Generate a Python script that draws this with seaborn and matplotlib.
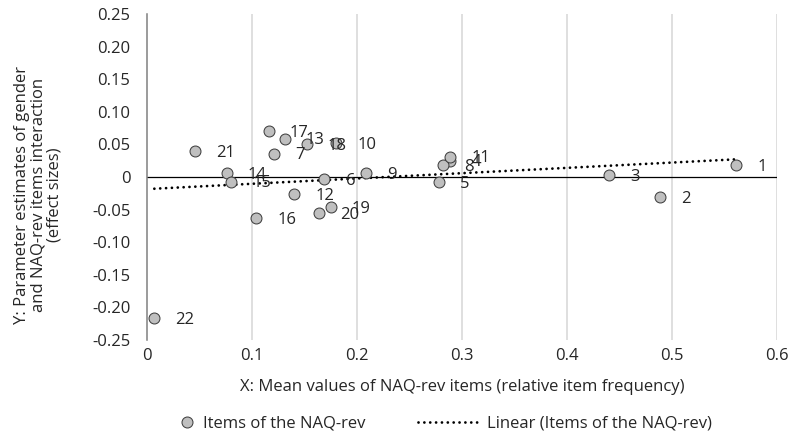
import matplotlib
matplotlib.use("Agg")
import matplotlib.pyplot as plt
import seaborn as sns
import pandas as pd
import numpy as np
from matplotlib.lines import Line2D

# ---- data ----
item_ids = [1, 2, 3, 4, 5, 6, 7, 8, 9, 10, 11,
            12, 13, 14, 15, 16, 17, 18, 19, 20, 21, 22]
mean_values = [0.561, 0.489, 0.440, 0.289, 0.278, 0.169, 0.121, 0.282, 0.209, 0.180, 0.289,
               0.140, 0.131, 0.076, 0.080, 0.104, 0.116, 0.152, 0.175, 0.164, 0.046, 0.007]
effect_sizes = [0.018, -0.031, 0.003, 0.025, -0.008, -0.003, 0.036, 0.018, 0.006, 0.052, 0.031,
                -0.026, 0.059, 0.006, -0.007, -0.063, 0.070, 0.050, -0.046, -0.055, 0.040, -0.217]

x_ticks = [0, 0.1, 0.2, 0.3, 0.4, 0.5, 0.6]
x_tick_labels = ["0", "0.1", "0.2", "0.3", "0.4", "0.5", "0.6"]
y_ticks = [0.25, 0.20, 0.15, 0.10, 0.05, 0, -0.05, -0.10, -0.15, -0.20, -0.25]
y_tick_labels = ["0.25", "0.20", "0.15", "0.10", "0.05", "0", "-0.05", "-0.10", "-0.15", "-0.20", "-0.25"]

x_label = "X: Mean values of NAQ-rev items (relative item frequency)"
y_label = "Y: Parameter estimates of gender\nand NAQ-rev items interaction\n(effect sizes)"
series_name = "Items of the NAQ-rev"
trend_name = "Linear (Items of the NAQ-rev)"

df = pd.DataFrame({"item": item_ids, "x": mean_values, "y": effect_sizes})

sns.set_theme(style="white")
plt.rcParams["font.family"] = ["Open Sans", "DejaVu Sans"]
FS = 12
TXT = "#262626"

W, H = 792, 437
fig = plt.figure(figsize=(W / 100, H / 100), dpi=100)
ax = fig.add_axes([147 / W, 1 - 340 / H, (777 - 147) / W, (340 - 14) / H])

# vertical gridlines
for xv in x_ticks[1:]:
    ax.axvline(xv, color="#D9D9D9", lw=1.2, zorder=0)
# horizontal axis line at y=0
ax.axhline(0, color="#000000", lw=0.9, zorder=1)

# linear trendline
sns.regplot(data=df, x="x", y="y", scatter=False, ci=None, truncate=True, ax=ax,
            line_kws=dict(color="black", lw=2.0, linestyle=(0, (0.01, 2.1)),
                          dash_capstyle="round", zorder=2))

# points
sns.scatterplot(data=df, x="x", y="y", ax=ax, s=62, color="#BFBFBF",
                edgecolor="#404040", linewidth=0.75, zorder=3, legend=False)

# point labels
for i, xv, yv in zip(item_ids, mean_values, effect_sizes):
    ax.annotate(str(i), (xv, yv), xytext=(15.2, -1.2), textcoords="offset points",
                ha="left", va="center", fontsize=FS, color=TXT, zorder=4)

ax.set_xlim(0, 0.6)
ax.set_ylim(-0.25, 0.25)
ax.set_xticks(x_ticks)
ax.set_xticklabels(x_tick_labels)
ax.set_yticks(y_ticks)
ax.set_yticklabels(y_tick_labels)
ax.tick_params(axis="both", length=0, labelsize=FS, labelcolor=TXT)
ax.tick_params(axis="y", pad=12)
ax.tick_params(axis="x", pad=5.5)

for s in ["top", "right", "bottom"]:
    ax.spines[s].set_visible(False)
ax.spines["left"].set_color("#808080")
ax.spines["left"].set_linewidth(1.1)
ax.spines["left"].set_zorder(1)

ax.set_xlabel(x_label, fontsize=FS, color=TXT, va="center")
ax.xaxis.set_label_coords(0.5, (340 - 387) / 326)
ax.set_ylabel(y_label, fontsize=FS, color=TXT, va="center", ha="center",
              multialignment="center", linespacing=1.0)
ax.yaxis.set_label_coords((38 - 147) / 630, (340 - 195) / 326)

# legend (two parts to reproduce Excel's handle widths)
fs_px = FS * 100 / 72
mk = Line2D([], [], marker="o", linestyle="none", markersize=7.9,
            markerfacecolor="#BFBFBF", markeredgecolor="#404040", markeredgewidth=0.75)
ln = Line2D([], [], color="black", lw=2.0, linestyle=(0, (0.01, 2.1)), dash_capstyle="round")
ly = 1 - 424 / H
hl1 = 15.3 / fs_px
leg1 = fig.legend([mk], [series_name], loc="center left",
                  bbox_to_anchor=((187 - 7.65) / W, ly),
                  frameon=False, fontsize=FS, handlelength=hl1, handletextpad=8.5 / fs_px,
                  borderpad=0, borderaxespad=0, labelcolor=TXT)
leg2 = fig.legend([ln], [trend_name], loc="center left", bbox_to_anchor=(418 / W, ly),
                  frameon=False, fontsize=FS, handlelength=60 / fs_px, handletextpad=9 / fs_px,
                  borderpad=0, borderaxespad=0, labelcolor=TXT)

fig.savefig("out.png", dpi=100, facecolor="white")
